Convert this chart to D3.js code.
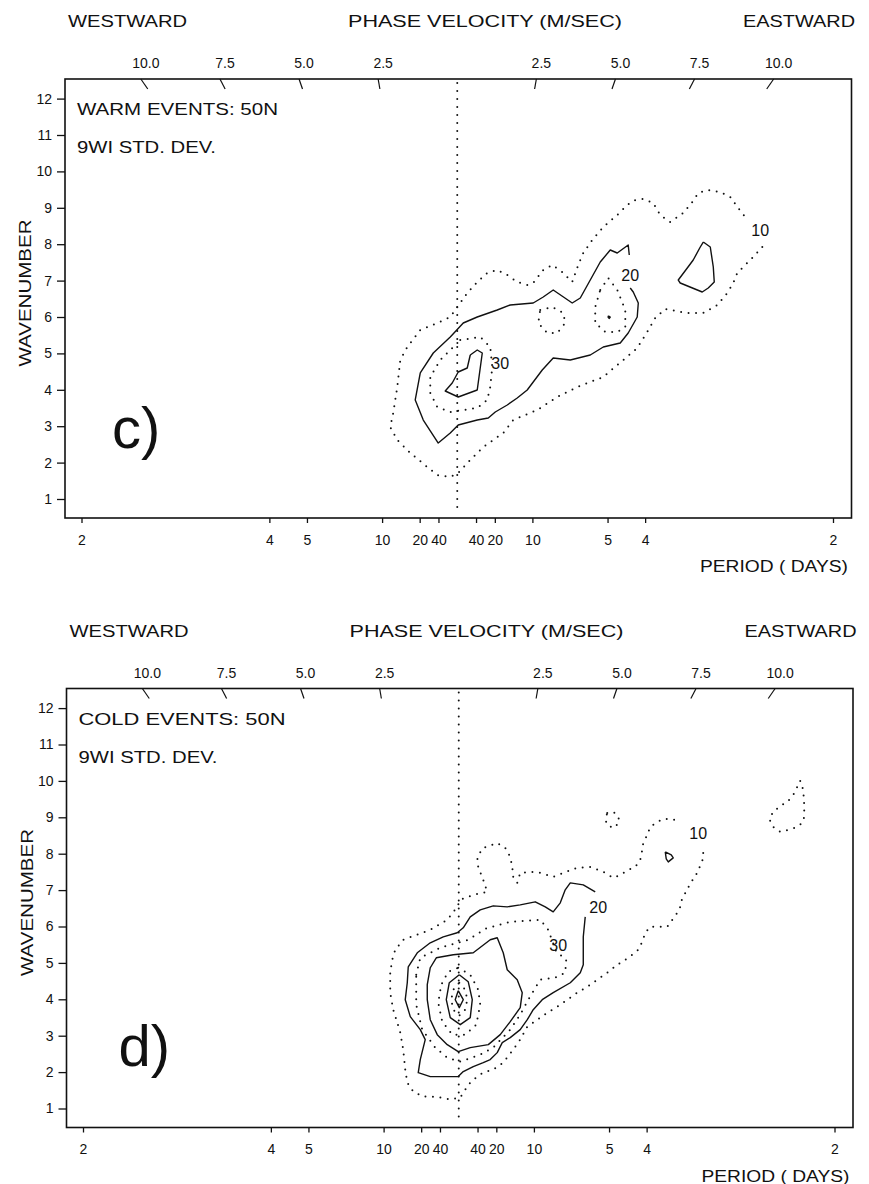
<!DOCTYPE html>
<html>
<head>
<meta charset="utf-8">
<script src="https://cdn.jsdelivr.net/npm/d3@7"></script>
<style>
  body { margin: 0; background: #fff; }
  text { font-family: "Liberation Sans", Arial, Helvetica, sans-serif; fill: #111; }
</style>
</head>
<body>
<svg id="chart" width="869" height="1184"></svg>
<script>
// ---- axis values ----
const periodTicks = [-2, -4, -5, -10, -20, -40, 40, 20, 10, 5, 4, 2];   // days, negative = westward
const waveTicks = [1, 2, 3, 4, 5, 6, 7, 8, 9, 10, 11, 12];
const speedTicks = [-10, -7.5, -5, -2.5, 2.5, 5, 7.5, 10];              // m/s at 50N
const speedFactor = 297.8;  // (m/s) per (cycles/day / wavenumber) at 50N

// ---- panel c: warm events, contours as [frequency (cpd), wavenumber] ----
const warm10 = [[0.4059,7.923],[0.3939,7.648],[0.3859,7.484],[0.3726,7.209],[0.3673,6.934],[0.3593,6.659],[0.3460,6.330],[0.3274,6.110],[0.3061,6.110],[0.2768,6.220],[0.2635,5.973],[0.2528,5.588],[0.2395,5.148],[0.2209,4.819],[0.1943,4.352],[0.1597,4.077],[0.1331,3.802],[0.1065,3.445],[0.0745,3.170],[0.0612,2.813],[0.0346,2.429],[0.0173,2.071],[0.0013,1.714],[-0.0093,1.604],[-0.0266,1.659],[-0.0399,1.879],[-0.0625,2.264],[-0.0798,2.621],[-0.0892,2.978],[-0.0852,3.363],[-0.0798,4.077],[-0.0758,4.819],[-0.0665,5.176],[-0.0492,5.643],[-0.0266,5.835],[-0.0093,6.000],[0.0040,6.385],[0.0133,6.659],[0.0266,6.962],[0.0399,7.209],[0.0532,7.291],[0.0665,7.154],[0.0798,6.962],[0.0931,6.879],[0.1011,6.934],[0.1144,7.291],[0.1264,7.429],[0.1397,7.236],[0.1530,6.962],[0.1610,7.429],[0.1677,7.758],[0.1796,8.115],[0.1943,8.473],[0.2129,8.802],[0.2262,9.077],[0.2369,9.214],[0.2475,9.242],[0.2608,9.132],[0.2701,8.802],[0.2834,8.610],[0.3007,8.857],[0.3127,9.159],[0.3207,9.407],[0.3327,9.489],[0.3500,9.434],[0.3633,9.297],[0.3739,8.995],[0.3832,8.747]];
const warm20 = [[0.2289,7.703],[0.2275,7.978],[0.2129,7.758],[0.2036,7.841],[0.1903,7.511],[0.1770,7.016],[0.1637,6.522],[0.1530,6.385],[0.1277,6.742],[0.1144,6.549],[0.1011,6.385],[0.0705,6.330],[0.0532,6.192],[0.0266,6.000],[0.0080,5.835],[-0.0093,5.451],[-0.0319,5.011],[-0.0492,4.462],[-0.0559,3.720],[-0.0452,3.170],[-0.0253,2.538],[-0.0093,2.813],[0.0013,3.033],[0.0266,3.170],[0.0413,3.225],[0.0506,3.390],[0.0665,3.582],[0.0798,3.775],[0.0931,3.995],[0.1011,4.214],[0.1131,4.544],[0.1277,4.874],[0.1504,4.819],[0.1770,4.956],[0.1943,5.176],[0.2169,5.286],[0.2275,5.560],[0.2395,6.000],[0.2409,6.385],[0.2342,6.687],[0.2302,6.797]];
const warm20b = [[0.3274,8.060],[0.3367,7.923],[0.3407,7.374],[0.3420,6.962],[0.3340,6.797],[0.3260,6.687],[0.2967,6.934],[0.2941,7.016],[0.3061,7.346],[0.3140,7.566],[0.3234,7.923]];
const warm30 = [[0.0040,5.368],[0.0306,5.451],[0.0439,5.176],[0.0466,4.626],[0.0439,4.077],[0.0399,3.720],[0.0266,3.500],[0.0080,3.445],[-0.0093,3.390],[-0.0266,3.527],[-0.0359,3.912],[-0.0359,4.352],[-0.0226,4.819],[-0.0093,5.093]];
const warm30b = [[0.1104,6.192],[0.1264,6.275],[0.1411,6.110],[0.1437,5.835],[0.1331,5.560],[0.1198,5.560],[0.1078,5.835]];
const warm30c = [[0.1903,6.742],[0.2009,7.071],[0.2129,6.742],[0.2236,6.192],[0.2236,5.725],[0.2129,5.588],[0.1969,5.588],[0.1836,5.835],[0.1836,6.275]];
const warm40 = [[0.0173,4.956],[0.0266,5.093],[0.0333,5.011],[0.0266,3.995],[0.0013,3.802],[-0.0160,3.967],[-0.0067,4.187],[0.0013,4.489],[0.0133,4.599]];
const warm40b = [[0.2010,6.03],[0.2036,6.00],[0.2023,5.96],[0.2008,5.99]];
const warmLabels = [["10",0.4032,8.39],["20",0.2302,7.15],["30",0.0572,4.74]];

// ---- panel d: cold events ----
const cold10 = [[0.3253,8.022],[0.3240,7.775],[0.3187,7.556],[0.3147,7.364],[0.3081,7.199],[0.3041,7.007],[0.2974,6.787],[0.2947,6.540],[0.2908,6.376],[0.2841,6.184],[0.2774,5.992],[0.2655,5.992],[0.2548,5.992],[0.2482,5.827],[0.2442,5.580],[0.2389,5.361],[0.2309,5.224],[0.2216,5.086],[0.2109,4.949],[0.1976,4.730],[0.1843,4.538],[0.1710,4.346],[0.1577,4.181],[0.1444,3.989],[0.1311,3.797],[0.1178,3.632],[0.1045,3.440],[0.0912,3.248],[0.0818,2.892],[0.0725,2.617],[0.0592,2.261],[0.0459,2.069],[0.0326,1.986],[0.0246,1.877],[0.0153,1.712],[0.0060,1.438],[0.0020,1.300],[-0.0113,1.246],[-0.0246,1.300],[-0.0379,1.328],[-0.0472,1.328],[-0.0605,1.465],[-0.0685,1.712],[-0.0712,2.069],[-0.0739,2.617],[-0.0778,3.084],[-0.0818,3.358],[-0.0872,3.715],[-0.0912,4.181],[-0.0912,4.730],[-0.0885,5.086],[-0.0845,5.361],[-0.0739,5.635],[-0.0379,5.909],[-0.0153,6.184],[-0.0020,6.540],[0.0020,6.733],[0.0193,6.870],[0.0379,6.952],[0.0326,7.281],[0.0259,7.638],[0.0246,7.912],[0.0326,8.159],[0.0512,8.296],[0.0619,8.159],[0.0685,7.912],[0.0712,7.638],[0.0725,7.364],[0.0778,7.199],[0.0818,7.473],[0.0951,7.501],[0.1085,7.473],[0.1257,7.364],[0.1391,7.473],[0.1577,7.611],[0.1750,7.638],[0.1923,7.501],[0.2056,7.336],[0.2149,7.418],[0.2255,7.556],[0.2349,7.638],[0.2415,7.830],[0.2442,8.104],[0.2455,8.296],[0.2508,8.516],[0.2548,8.735],[0.2641,8.872],[0.2721,8.955],[0.2841,8.955],[0.2947,8.872]];
const cold10b = [[0.1976,9.119],[0.2056,9.147],[0.2122,9.037],[0.2136,8.872],[0.2069,8.708],[0.1989,8.763],[0.1950,8.927]];
const cold10c = [[0.4544,9.997],[0.4584,9.750],[0.4597,9.339],[0.4597,9.010],[0.4571,8.845],[0.4504,8.735],[0.4385,8.653],[0.4278,8.598],[0.4185,8.735],[0.4132,8.955],[0.4185,9.147],[0.4278,9.311],[0.4371,9.421],[0.4451,9.613],[0.4504,9.833]];
const cold20 = [[0.1816,6.952],[0.1657,7.144],[0.1484,7.199],[0.1417,7.007],[0.1351,6.650],[0.1257,6.403],[0.1151,6.540],[0.1018,6.678],[0.0818,6.595],[0.0645,6.540],[0.0459,6.568],[0.0286,6.458],[0.0153,6.266],[0.0060,5.964],[-0.0020,5.827],[-0.0206,5.717],[-0.0379,5.553],[-0.0552,5.278],[-0.0672,4.894],[-0.0685,4.455],[-0.0712,3.989],[-0.0645,3.523],[-0.0512,3.166],[-0.0446,2.892],[-0.0512,2.343],[-0.0539,1.986],[-0.0379,1.877],[-0.0007,1.877],[0.0060,2.014],[0.0193,2.151],[0.0326,2.261],[0.0419,2.343],[0.0512,2.535],[0.0579,2.809],[0.0685,2.947],[0.0818,3.166],[0.0912,3.440],[0.0991,3.715],[0.1111,3.989],[0.1257,4.181],[0.1484,4.455],[0.1617,4.730],[0.1657,4.949],[0.1657,5.278],[0.1657,5.717],[0.1683,6.266]];
const cold20b = [[0.2748,8.049],[0.2828,7.967],[0.2854,7.885],[0.2788,7.775],[0.2761,7.857]];
const cold30 = [[-0.0566,4.675],[-0.0512,5.141],[-0.0246,5.416],[0.0126,5.635],[0.0353,5.937],[0.0685,6.129],[0.1085,6.184],[0.1191,5.909],[0.1297,5.306],[0.1430,5.086],[0.1417,4.730],[0.1284,4.593],[0.1085,4.538],[0.0925,3.989],[0.0818,3.578],[0.0685,3.166],[0.0459,2.672],[0.0286,2.480],[0.0020,2.288],[-0.0153,2.398],[-0.0313,2.672],[-0.0486,3.166],[-0.0566,3.852]];
const cold40 = [[-0.0379,4.867],[-0.0299,5.141],[-0.0073,5.224],[0.0193,5.278],[0.0419,5.635],[0.0512,5.690],[0.0592,5.278],[0.0645,4.812],[0.0778,4.538],[0.0845,4.181],[0.0818,3.770],[0.0685,3.386],[0.0552,3.029],[0.0393,2.754],[0.0153,2.672],[-0.0007,2.562],[-0.0153,2.754],[-0.0286,3.029],[-0.0379,3.440],[-0.0419,3.989],[-0.0419,4.401]];
const cold50 = [[-0.0007,4.867],[0.0153,4.675],[0.0259,4.263],[0.0286,3.852],[0.0233,3.303],[0.0086,3.029],[-0.0086,3.029],[-0.0220,3.386],[-0.0273,3.907],[-0.0233,4.401],[-0.0140,4.757]];
const cold60 = [[0.0007,4.675],[0.0126,4.483],[0.0180,3.989],[0.0153,3.495],[0.0020,3.303],[-0.0113,3.495],[-0.0166,3.989],[-0.0126,4.455]];
const cold70 = [[0.0007,4.455],[0.0086,4.263],[0.0113,3.989],[0.0086,3.715],[0.0007,3.550],[-0.0073,3.715],[-0.0100,3.989],[-0.0073,4.263]];
const cold80 = [[-0.0007,4.236],[0.0060,3.989],[0.0007,3.770],[-0.0047,3.989]];
const coldLabels = [["10",0.3187,8.571],["20",0.1856,6.516],["30",0.1324,5.498]];

// ---- layout ----
const svg = d3.select("#chart");
const box = { left: 65, right: 851.5, top: 79, bottom: 518 };
const x = d3.scaleLinear().domain([-0.5, 0.5]).range([81.5, 833]);
const y = d3.scaleLinear().domain([1, 12]).range([499, 98.6]);

const panels = [
  {
    shift: [0, 0], title: "WARM EVENTS: 50N", titleLen: 201, letter: "c)", letterPos: [112, 448],
    lines: [
      { pts: warm10, dot: true, closed: false },
      { pts: warm20, dot: false, closed: false },
      { pts: warm20b, dot: false, closed: true },
      { pts: warm30, dot: true, closed: true },
      { pts: warm30b, dot: true, closed: true },
      { pts: warm30c, dot: true, closed: true },
      { pts: warm40, dot: false, closed: true },
      { pts: warm40b, dot: false, closed: true }
    ],
    labels: warmLabels
  },
  {
    shift: [1.5, 609.5], title: "COLD EVENTS: 50N", titleLen: 207, letter: "d)", letterPos: [117, 456],
    lines: [
      { pts: cold10, dot: true, closed: false },
      { pts: cold10b, dot: true, closed: true },
      { pts: cold10c, dot: true, closed: true },
      { pts: cold20, dot: false, closed: false },
      { pts: cold20b, dot: false, closed: true },
      { pts: cold30, dot: true, closed: true },
      { pts: cold40, dot: false, closed: true },
      { pts: cold50, dot: true, closed: true },
      { pts: cold60, dot: false, closed: true },
      { pts: cold70, dot: true, closed: true },
      { pts: cold80, dot: false, closed: true }
    ],
    labels: coldLabels
  }
];

const line = d3.line().x(d => x(d[0])).y(d => y(d[1]));

panels.forEach(p => {
  const g = svg.append("g").attr("transform", `translate(${p.shift[0]},${p.shift[1]})`);

  // header texts
  g.append("text").attr("x", 68).attr("y", 27).attr("font-size", 16)
    .attr("textLength", 119).attr("lengthAdjust", "spacingAndGlyphs").text("WESTWARD");
  g.append("text").attr("x", 348).attr("y", 27).attr("font-size", 16)
    .attr("textLength", 274).attr("lengthAdjust", "spacingAndGlyphs").text("PHASE  VELOCITY (M/SEC)");
  g.append("text").attr("x", 743).attr("y", 27).attr("font-size", 16)
    .attr("textLength", 112).attr("lengthAdjust", "spacingAndGlyphs").text("EASTWARD");

  // frame
  g.append("rect").attr("x", box.left).attr("y", box.top)
    .attr("width", box.right - box.left).attr("height", box.bottom - box.top)
    .attr("fill", "none").attr("stroke", "#111").attr("stroke-width", 1.6);

  // left axis
  const ax = g.append("g").attr("transform", `translate(${box.left},0)`)
    .call(d3.axisLeft(y).tickValues(waveTicks).tickSize(8).tickPadding(5));
  ax.select(".domain").remove();
  ax.selectAll("line").attr("stroke", "#111").attr("stroke-width", 1.3);
  ax.selectAll("text").attr("font-size", 14).attr("font-family", "Liberation Sans, Arial").attr("fill", "#111");

  // bottom axis (period)
  const bx = g.append("g").attr("transform", `translate(0,${box.bottom})`)
    .call(d3.axisBottom(x).tickValues(periodTicks.map(d => 1 / d))
      .tickFormat((d, i) => Math.abs(periodTicks[i])).tickSize(5).tickPadding(12));
  bx.select(".domain").remove();
  bx.selectAll("line").attr("stroke", "#111").attr("stroke-width", 1.3);
  bx.selectAll("text").attr("font-size", 14).attr("font-family", "Liberation Sans, Arial").attr("fill", "#111");

  g.append("text").attr("x", 700).attr("y", 572).attr("font-size", 16)
    .attr("textLength", 148).attr("lengthAdjust", "spacingAndGlyphs").text("PERIOD ( DAYS)");

  // top axis: phase velocity ticks follow constant-speed lines
  const kTop = y.invert(box.top), kEnd = y.invert(box.top + 10);
  speedTicks.forEach(c => {
    const f0 = c * kTop / speedFactor, f1 = c * kEnd / speedFactor;
    g.append("line").attr("x1", x(f0)).attr("y1", y(kTop)).attr("x2", x(f1)).attr("y2", y(kEnd))
      .attr("stroke", "#111").attr("stroke-width", 1.2);
    g.append("text").attr("x", x(f0) + 5).attr("y", 68).attr("text-anchor", "middle")
      .attr("font-size", 14).text(d3.format(".1f")(Math.abs(c)));
  });

  // y label
  g.append("text").attr("transform", "translate(31,293) rotate(-90)").attr("text-anchor", "middle")
    .attr("font-size", 17).attr("textLength", 147).attr("lengthAdjust", "spacingAndGlyphs").text("WAVENUMBER");

  // panel annotations
  g.append("text").attr("x", 77).attr("y", 115).attr("font-size", 17)
    .attr("textLength", p.titleLen).attr("lengthAdjust", "spacingAndGlyphs").text(p.title);
  g.append("text").attr("x", 77).attr("y", 153).attr("font-size", 16)
    .attr("textLength", 139).attr("lengthAdjust", "spacingAndGlyphs").text("9WI STD. DEV.");
  g.append("text").attr("x", p.letterPos[0]).attr("y", p.letterPos[1]).attr("font-size", 58).text(p.letter);

  // zero-frequency line
  g.append("line").attr("x1", x(0)).attr("x2", x(0)).attr("y1", box.top + 4).attr("y2", box.bottom - 3)
    .attr("stroke", "#111").attr("stroke-width", 2).attr("stroke-linecap", "round").attr("stroke-dasharray", "0 8");

  // contours
  p.lines.forEach(l => {
    const pts = l.closed ? l.pts.concat([l.pts[0]]) : l.pts;
    const path = g.append("path").attr("d", line(pts)).attr("fill", "none").attr("stroke", "#111");
    if (l.dot) path.attr("stroke-width", 2).attr("stroke-linecap", "round").attr("stroke-dasharray", "0 7.5");
    else path.attr("stroke-width", 1.4).attr("stroke-linejoin", "round");
  });

  p.labels.forEach(t => {
    g.append("text").attr("x", x(t[1])).attr("y", y(t[2])).attr("dy", "0.36em")
      .attr("text-anchor", "middle").attr("font-size", 16).text(t[0]);
  });
});
</script>
</body>
</html>
